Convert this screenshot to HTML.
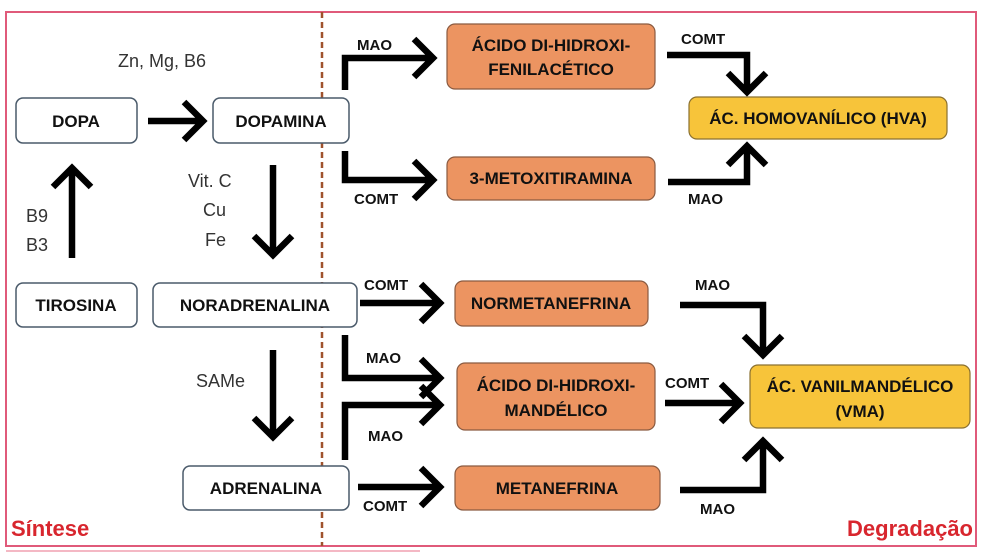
<!DOCTYPE html>
<html><head><meta charset="utf-8"><style>
html,body{margin:0;padding:0;background:#fff}
svg{display:block}
.b{font-family:"Liberation Sans",sans-serif;font-weight:bold;font-size:17px;fill:#111;text-anchor:middle}
.s{font-family:"Liberation Sans",sans-serif;font-weight:bold;font-size:15px;fill:#111}
.n{font-family:"Liberation Sans",sans-serif;font-size:18px;fill:#333}
.a{fill:none;stroke:#000;stroke-width:6.5;stroke-linejoin:miter}
</style></head><body>
<svg width="982" height="553" viewBox="0 0 982 553" xmlns="http://www.w3.org/2000/svg">
<rect x="6" y="12" width="970" height="534" fill="none" stroke="#e05a7a" stroke-width="2"/>
<line x1="322" y1="12" x2="322" y2="546" stroke="#a0522d" stroke-width="2.5" stroke-dasharray="6,4"/>
<line x1="6" y1="551" x2="420" y2="551" stroke="#f0a0b0" stroke-width="1.5"/>

<g fill="#fff" stroke="#4a5a6a" stroke-width="1.5">
<rect x="16" y="98" width="121" height="45" rx="7"/>
<rect x="213" y="98" width="136" height="45" rx="7"/>
<rect x="16" y="283" width="121" height="44" rx="7"/>
<rect x="153" y="283" width="204" height="44" rx="7"/>
<rect x="183" y="466" width="166" height="44" rx="7"/>
</g>
<text class="b" x="76" y="127">DOPA</text>
<text class="b" x="281" y="127">DOPAMINA</text>
<text class="b" x="76" y="311">TIROSINA</text>
<text class="b" x="255" y="311">NORADRENALINA</text>
<text class="b" x="266" y="494">ADRENALINA</text>

<g fill="#ec9461" stroke="#8a5a40" stroke-width="1.2">
<rect x="447" y="24" width="208" height="65" rx="8"/>
<rect x="447" y="157" width="208" height="43" rx="8"/>
<rect x="455" y="281" width="193" height="45" rx="8"/>
<rect x="457" y="363" width="198" height="67" rx="8"/>
<rect x="455" y="466" width="205" height="44" rx="8"/>
</g>
<text class="b" x="551" y="51">ÁCIDO DI-HIDROXI-</text>
<text class="b" x="551" y="75">FENILACÉTICO</text>
<text class="b" x="551" y="184">3-METOXITIRAMINA</text>
<text class="b" x="551" y="309">NORMETANEFRINA</text>
<text class="b" x="556" y="391">ÁCIDO DI-HIDROXI-</text>
<text class="b" x="556" y="416">MANDÉLICO</text>
<text class="b" x="557" y="494">METANEFRINA</text>

<g fill="#f7c43a" stroke="#8a7030" stroke-width="1.2">
<rect x="689" y="97" width="258" height="42" rx="8"/>
<rect x="750" y="365" width="220" height="63" rx="8"/>
</g>
<text class="b" x="818" y="124">ÁC. HOMOVANÍLICO (HVA)</text>
<text class="b" x="860" y="392">ÁC. VANILMANDÉLICO</text>
<text class="b" x="860" y="417">(VMA)</text>

<text class="n" x="118" y="67">Zn, Mg, B6</text>
<text class="n" x="26" y="222">B9</text>
<text class="n" x="26" y="251">B3</text>
<text class="n" x="188" y="187">Vit. C</text>
<text class="n" x="203" y="216">Cu</text>
<text class="n" x="205" y="246">Fe</text>
<text class="n" x="196" y="387">SAMe</text>

<path class="a" d="M148 121H203 M184 102L203 121L184 140"/>
<path class="a" d="M72 258V168 M53 187L72 168L91 187"/>
<path class="a" d="M273 165V255 M254 236L273 255L292 236"/>
<path class="a" d="M273 350V437 M254 418L273 437L292 418"/>

<path class="a" d="M345 90V58H433 M414 39L433 58L414 77"/>
<path class="a" d="M345 151V180H433 M414 161L433 180L414 199"/>
<text class="s" x="357" y="50">MAO</text>
<text class="s" x="354" y="204">COMT</text>
<path class="a" d="M667 55H747V92 M728 73L747 92L766 73"/>
<text class="s" x="681" y="44">COMT</text>
<path class="a" d="M668 182H747V146 M728 165L747 146L766 165"/>
<text class="s" x="688" y="204">MAO</text>

<path class="a" d="M360 303H440 M421 284L440 303L421 322"/>
<text class="s" x="364" y="290">COMT</text>
<path class="a" d="M345 335V378H440 M421 359L440 378L421 397"/>
<text class="s" x="366" y="363">MAO</text>
<path class="a" d="M345 460V405H440 M421 386L440 405L421 424"/>
<text class="s" x="368" y="441">MAO</text>
<path class="a" d="M358 487H440 M421 468L440 487L421 506"/>
<text class="s" x="363" y="511">COMT</text>

<path class="a" d="M680 305H763V355 M744 336L763 355L782 336"/>
<text class="s" x="695" y="290">MAO</text>
<path class="a" d="M665 403H740 M721 384L740 403L721 422"/>
<text class="s" x="665" y="388">COMT</text>
<path class="a" d="M680 490H763V441 M744 460L763 441L782 460"/>
<text class="s" x="700" y="514">MAO</text>

<text x="11" y="536" style="font-family:'Liberation Sans',sans-serif;font-weight:bold;font-size:22px;fill:#d8262e">Síntese</text>
<text x="973" y="536" text-anchor="end" style="font-family:'Liberation Sans',sans-serif;font-weight:bold;font-size:22px;fill:#d8262e">Degradação</text>
</svg>
</body></html>
